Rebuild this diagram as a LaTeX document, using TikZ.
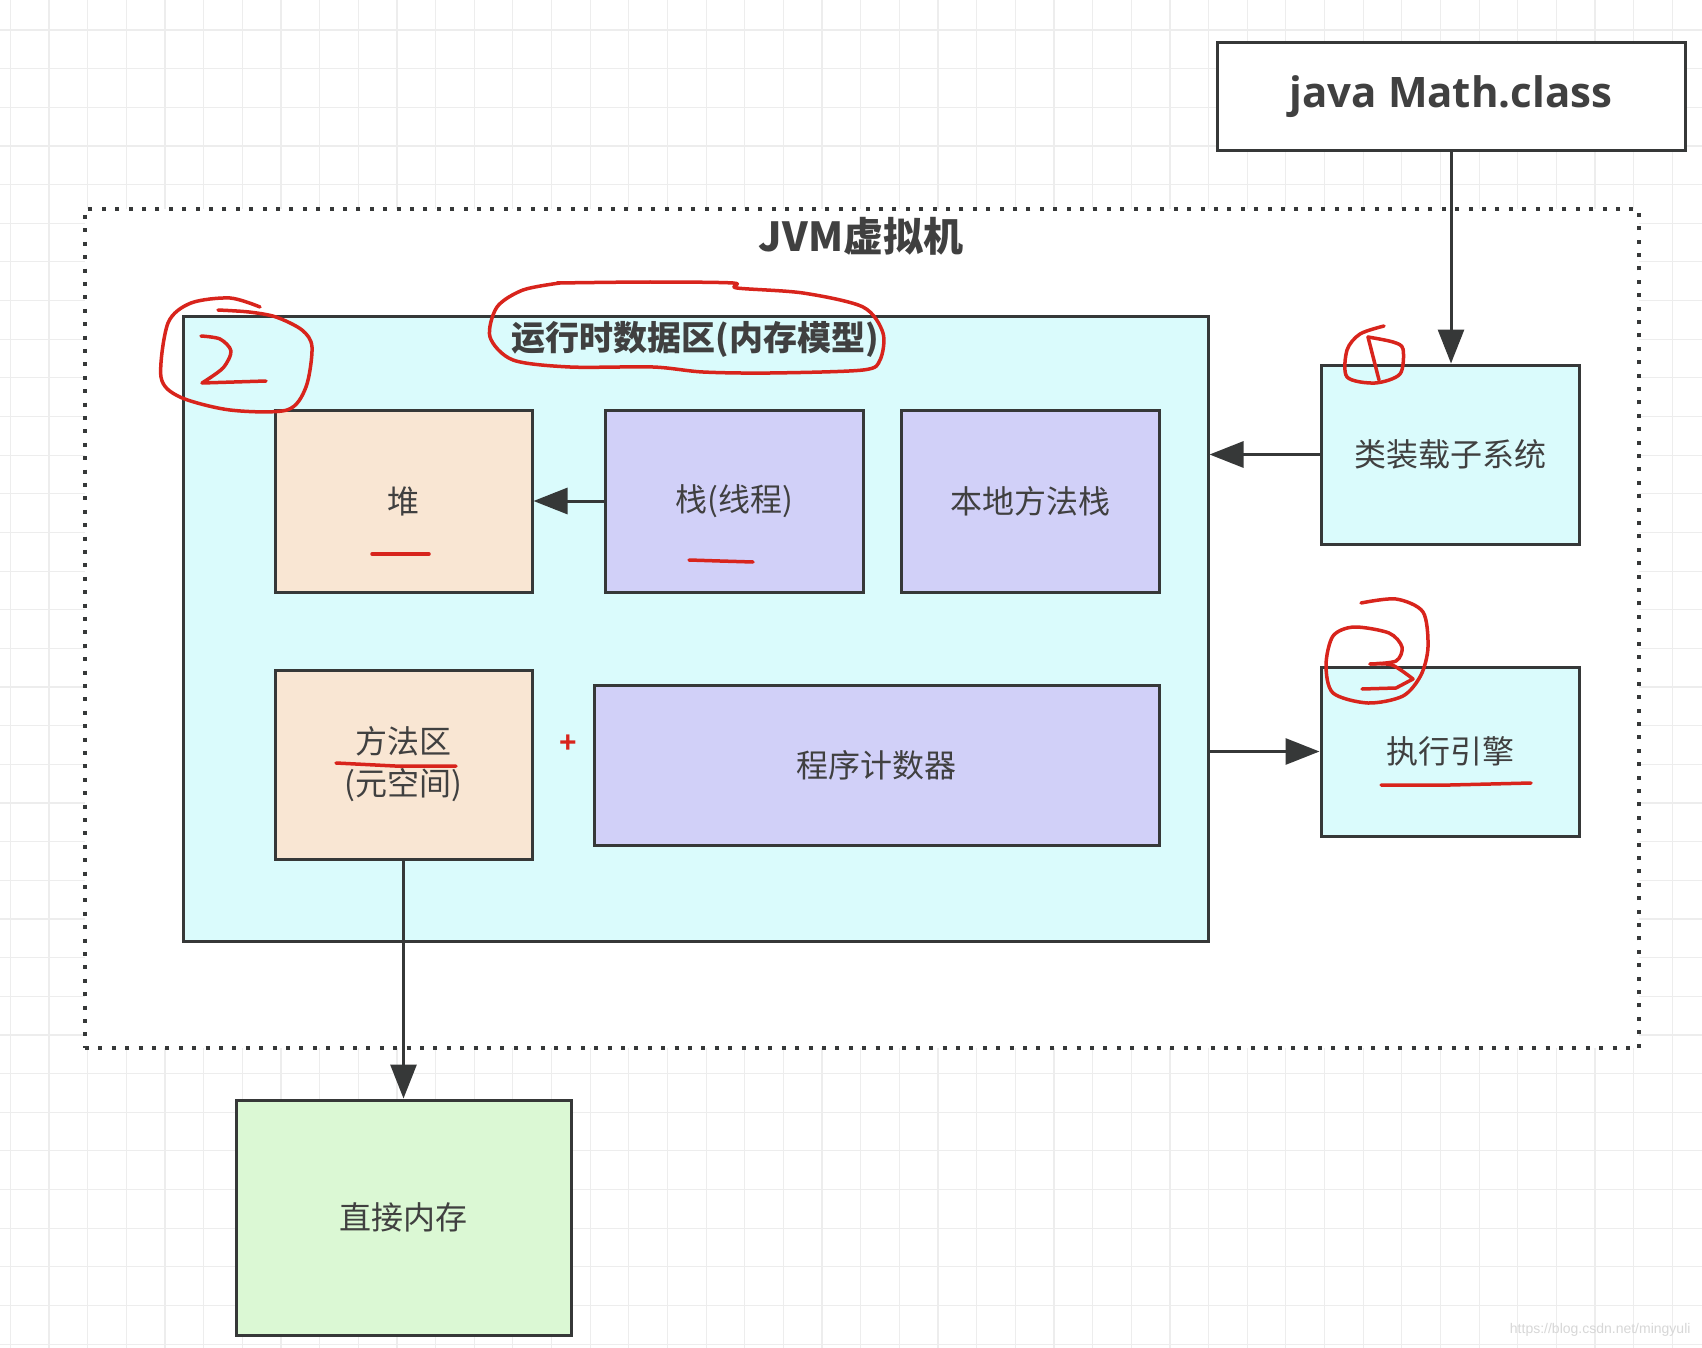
\documentclass[tikz,border=0pt]{standalone}
\usepackage{fontspec}
\usetikzlibrary{arrows.meta}
\newfontfamily\cjk{Noto Sans CJK SC}
\newfontfamily\osans{Open Sans}
\newfontfamily\lsans{Liberation Sans}
\definecolor{bordc}{HTML}{363838}
\definecolor{txtc}{HTML}{404040}
\definecolor{cyanf}{HTML}{DAFBFC}
\definecolor{peachf}{HTML}{F9E6D3}
\definecolor{purplef}{HTML}{D1D0F8}
\definecolor{greenf}{HTML}{DBF8D4}
\definecolor{gridc}{HTML}{EDEDED}
\definecolor{penred}{HTML}{D8241C}
\tikzset{
  boxn/.style={draw=bordc, line width=3pt, inner sep=0pt, text=txtc,
    font=\cjk\fontsize{32}{40}\selectfont, align=center},
  arr/.style={draw=bordc, line width=3pt, -{Triangle[length=34pt,width=26pt]}},
  gridline/.style={draw=gridc, line width=1.2pt},
  redpen/.style={draw=penred, line width=3.5pt, line cap=round, line join=round},
}
\begin{document}
\begin{tikzpicture}[x=1pt,y=-1pt]
\useasboundingbox (0,0) rectangle (1702,1348);
\fill[white] (0,0) rectangle (1702,1348);
% background grid
\foreach \i in {0,...,44} {
  \draw[gridline] ({10.4+38.65*\i},0) -- ({10.4+38.65*\i},1348);
}
\foreach \j in {0,...,34} {
  \draw[gridline] (0,{30+38.65*\j}) -- (1702,{30+38.65*\j});
}
% JVM dotted frame
\node[draw=bordc, fill=white, line width=4pt, dash pattern=on 4pt off 9.4pt,
  minimum width=1554pt, minimum height=839pt, inner sep=0pt] (jvm) at (862,628.5) {};
\node[font=\cjk\bfseries\fontsize{40}{48}\selectfont, text=txtc] (jvmt) at (861,236) {JVM虚拟机};
% java Math.class
\node[boxn, fill=white, minimum width=468pt, minimum height=108pt,
  font=\osans\bfseries\fontsize{42}{50}\selectfont] (math) at (1451,97) {java Math.class};
% runtime data area
\node[boxn, fill=cyanf, minimum width=1025pt, minimum height=625pt] (runtime) at (695.5,628.5) {};
\node[font=\cjk\bfseries\fontsize{34}{40}\selectfont, text=txtc] (rtt) at (695,339) {运行时数据区(内存模型)};
% inner boxes
\node[boxn, fill=peachf, minimum width=257pt, minimum height=182pt] (heap) at (403.5,501) {堆};
\node[boxn, fill=purplef, minimum width=258pt, minimum height=182pt] (stack) at (734,501) {栈(线程)};
\node[boxn, fill=purplef, minimum width=258pt, minimum height=182pt] (native) at (1030,501) {本地方法栈};
\node[boxn, fill=peachf, minimum width=257pt, minimum height=189pt] (method) at (403.5,764.5) {方法区\\[2pt](元空间)};
\node[boxn, fill=purplef, minimum width=565pt, minimum height=160pt] (pc) at (876.5,765) {程序计数器};
\node[text=penred, font=\lsans\bfseries\fontsize{30}{30}\selectfont] (plus) at (568,744) {+};
% right side boxes
\node[boxn, fill=cyanf, minimum width=258pt, minimum height=179pt] (loader) at (1450,454.5) {类装载子系统};
\node[boxn, fill=cyanf, minimum width=258pt, minimum height=169pt] (engine) at (1450,751.5) {执行引擎};
% direct memory
\node[boxn, fill=greenf, minimum width=335pt, minimum height=235pt] (direct) at (403.5,1217.5) {直接内存};
% connectors
\draw[arr] (math.south) -- (math.south |- loader.north);
\draw[arr] (loader.west) -- (loader.west -| runtime.east);
\draw[arr] (runtime.east |- engine.west) -- (engine.west);
\draw[arr] (stack.west) -- (heap.east);
\draw[arr] (method.south) -- (direct.north);
% watermark
\node[anchor=east, text=gridc!80!gray, font=\lsans\fontsize{14}{16}\selectfont] (wm) at (1694,1330) {https://blog.csdn.net/mingyuli};
% red annotations: circle with 2
\draw[redpen] plot[smooth] coordinates {(260,307) (230,298) (191,303) (168,323) (161,377) (180,397) (230,410) (287,410) (306,387) (312,347) (302,330) (276,317) (249,312) (218,310)};
\draw[redpen] plot[smooth] coordinates {(201,336) (220,339) (231,351) (223,368) (202,383)} -- (266,381);
% ellipse round title
\draw[redpen] plot[smooth] coordinates {(557,283) (650,282) (733,283) (737,288) (803,293) (863,307) (883,333) (880,360) (863,370) (770,373) (703,372) (653,367) (570,367) (513,360) (490,337) (497,307) (523,290) (560,283)};
% circle 1 at loader
\draw[redpen] plot[smooth] coordinates {(1384,326) (1360,334) (1347,350) (1347,377) (1375,383) (1400,374) (1403,349) (1393,342) (1368,337)};
\draw[redpen] (1368,337) -- (1379,380);
% circled 3 at engine
\draw[redpen] plot[smooth] coordinates {(1361,603) (1396,599) (1423,612) (1428,647) (1421,675) (1403,696) (1368,703) (1333,693) (1326,665) (1333,636) (1354,627) (1389,633) (1402,647) (1396,661) (1370,664)};
\draw[redpen] plot[smooth] coordinates {(1370,664) (1392,665) (1413,679)} -- (1396,688) -- (1362,689);
% underlines
\draw[redpen] (372,554) -- (429,554);
\draw[redpen] (689,560) -- (720,561) -- (753,562);
\draw[redpen] (336,763) -- (395,766) -- (456,766);
\draw[redpen] (1381,785) -- (1450,785) -- (1531,783);
\end{tikzpicture}
\end{document}
